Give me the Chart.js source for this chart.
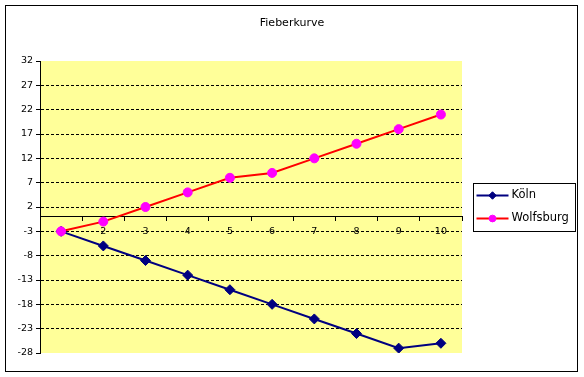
<!DOCTYPE html>
<html><head><meta charset="utf-8">
<script src="https://cdn.jsdelivr.net/npm/chart.js@4"></script>
<style>html,body{margin:0;padding:0;background:#fff}#wrap{width:584px;height:377px;position:relative}canvas{display:block}</style>
</head><body><div id="wrap"><canvas id="c" width="584" height="377"></canvas></div>
<script>
const titleText = 'Fieberkurve';
const categories = ['1','2','3','4','5','6','7','8','9','10'];
const seriesNames = ['Köln', 'Wolfsburg'];
const koeln = [-3, -6, -9, -12, -15, -18, -21, -24, -27, -26];
const wolfsburg = [-3, -1, 2, 5, 8, 9, 12, 15, 18, 21];
const yTicks = [-28, -23, -18, -13, -8, -3, 2, 7, 12, 17, 22, 27, 32];

Chart.defaults.font.family = 'DejaVu Sans';
Chart.defaults.color = '#000';

function drawMarker(ctx, style, x, y, r, color) {
  ctx.beginPath();
  if (style === 'rectRot') {
    ctx.moveTo(x - r, y); ctx.lineTo(x, y - r); ctx.lineTo(x + r, y); ctx.lineTo(x, y + r); ctx.closePath();
  } else {
    ctx.arc(x, y, r, 0, Math.PI * 2);
  }
  ctx.fillStyle = color; ctx.fill();
  ctx.strokeStyle = color; ctx.lineWidth = 1; ctx.stroke();
}

const bgPlugin = {
  id: 'bg',
  beforeDraw(chart) {
    const {ctx, chartArea: a} = chart;
    ctx.save();
    ctx.fillStyle = '#fff';
    ctx.fillRect(0, 0, chart.width, chart.height);
    ctx.fillStyle = '#FFFF99';
    ctx.fillRect(a.left, a.top, a.right - a.left, a.bottom - a.top);
    ctx.restore();
  },
  afterDraw(chart) {
    const {ctx, chartArea: a} = chart;
    ctx.save();
    ctx.strokeStyle = '#000'; ctx.lineWidth = 1;
    ctx.strokeRect(5.5, 5.5, 572, 366);
    // legend box
    const lx = Math.round(a.right + 11) + 0.5;
    const lw = 102, lh = 48;
    const ly = Math.round((a.top + a.bottom) / 2 - lh / 2) + 0.5;
    ctx.fillStyle = '#fff';
    ctx.fillRect(lx, ly, lw, lh);
    ctx.strokeRect(lx, ly, lw, lh);
    chart.data.datasets.forEach((ds, i) => {
      const y = ly + 12 + i * 23;
      ctx.strokeStyle = ds.borderColor; ctx.lineWidth = 2;
      ctx.beginPath(); ctx.moveTo(lx + 3, y); ctx.lineTo(lx + 35, y); ctx.stroke();
      drawMarker(ctx, ds.pointStyle, lx + 19, y, ds.pointRadius * 0.75, ds.pointBackgroundColor);
      ctx.fillStyle = '#000';
      ctx.font = '11.5px "DejaVu Sans"';
      ctx.textBaseline = 'middle'; ctx.textAlign = 'left';
      ctx.fillText(ds.label, lx + 38, y);
    });
    ctx.restore();
  }
};

new Chart(document.getElementById('c'), {
  type: 'line',
  data: {
    labels: categories,
    datasets: [
      {
        label: seriesNames[0], data: koeln, order: 1,
        borderColor: '#000080', backgroundColor: '#000080', borderWidth: 2,
        pointStyle: 'rectRot', pointRadius: 5, pointBackgroundColor: '#000080', pointBorderColor: '#000080', pointBorderWidth: 1,
        tension: 0, fill: false
      },
      {
        label: seriesNames[1], data: wolfsburg, order: 0,
        borderColor: '#FF0000', backgroundColor: '#FF00FF', borderWidth: 2,
        pointStyle: 'circle', pointRadius: 4.5, pointBackgroundColor: '#FF00FF', pointBorderColor: '#FF00FF', pointBorderWidth: 1,
        tension: 0, fill: false
      }
    ]
  },
  options: {
    responsive: false,
    devicePixelRatio: 1,
    animation: false,
    events: [],
    layout: { padding: { left: 0, right: 0, top: 0, bottom: 24 } },
    plugins: {
      legend: { display: false },
      tooltip: { enabled: false },
      title: {
        display: true, text: titleText, color: '#000',
        font: { family: 'DejaVu Sans', size: 11, weight: 'normal' },
        padding: { top: 17, bottom: 30.8 }
      }
    },
    scales: {
      x: {
        type: 'category',
        position: { y: 0 },
        offset: true,
        grid: { display: true, drawOnChartArea: false, offset: true, drawTicks: true, tickLength: 4, tickColor: '#000', color: '#000' },
        border: { display: true, color: '#000', width: 1 },
        ticks: { color: '#000', font: { size: 9.5 }, padding: 5, maxRotation: 0, autoSkip: false },
        afterFit: s => { s.height = 0; }
      },
      y: {
        type: 'linear',
        position: 'left',
        min: yTicks[0], max: yTicks[yTicks.length - 1],
        afterBuildTicks: s => { s.ticks = yTicks.map(v => ({ value: v })); },
        grid: {
          display: true, drawOnChartArea: true, drawTicks: true, tickLength: 4, tickColor: '#000', tickBorderDash: [],
          color: c => (c.tick && (c.tick.value === yTicks[0] || c.tick.value === yTicks[yTicks.length - 1])) ? 'rgba(0,0,0,0)' : '#000',
          lineWidth: 1
        },
        border: { display: true, color: '#000', width: 1, dash: [3, 2] },
        ticks: { color: '#000', font: { size: 9.5 }, padding: 3 },
        afterFit: s => { s.width = 40; }
      },
      legendSpace: {
        type: 'linear',
        position: 'right',
        display: true,
        grid: { display: false, drawTicks: false },
        border: { display: false },
        ticks: { display: false },
        afterFit: s => { s.width = 122; }
      }
    }
  },
  plugins: [bgPlugin]
});
</script>
</body></html>
